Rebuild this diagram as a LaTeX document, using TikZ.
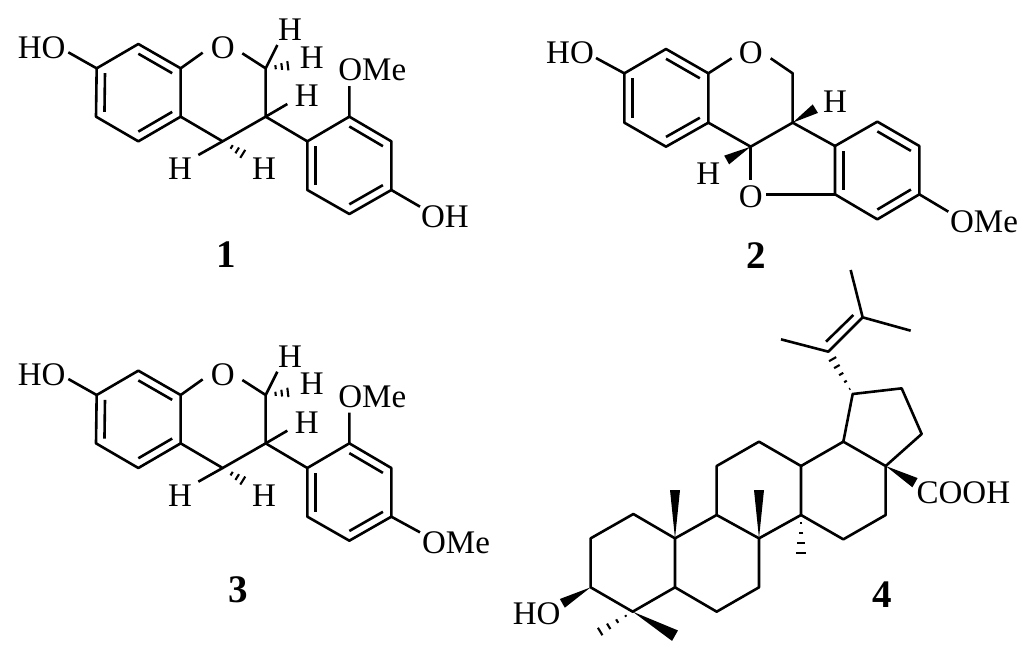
\documentclass[tikz,border=0pt]{standalone}
\usepackage{fontspec}
\setmainfont{Liberation Serif}
\usetikzlibrary{calc}
\tikzset{
  bondline/.style={line width=2.6pt,line join=round,line cap=butt},
  hashline/.style={line width=2.1pt},
  atomlabel/.style={inner sep=0pt,font=\fontsize{33}{33}\selectfont},
  numlabel/.style={inner sep=0pt,font=\fontsize{39}{39}\selectfont\bfseries},
  zoomed/.style={x=0.33333pt,y=-0.33333pt}
}
\newcommand\dbl[3]{\draw[bondline] ($(#1)!.2!(#3)$) -- ($(#2)!.2!(#3)$);}
\newcommand\wdg[3]{\fill ($(#2)!#3pt!90:(#1)$) -- (#1) -- ($(#2)!#3pt!-90:(#1)$) -- cycle;}
% from, to, number of bars, end half width (pt), start fraction
\newcommand\hsh[5]{\foreach \i in {1,...,#3}{
  \pgfmathsetmacro\f{#5+(1-#5)*(\i-1)/(#3-1)}
  \pgfmathsetmacro\h{#4*\f}
  \coordinate (hc) at ($(#1)!\f!(#2)$);
  \draw[hashline] ($(hc)!\h pt!90:(#2)$) -- ($(hc)!\h pt!-90:(#2)$);}}
\newcommand\chromane{%
  \coordinate (C7) at (290,205); \coordinate (C8) at (415,132); \coordinate (C8a) at (542,205);
  \coordinate (C2) at (797,205); \coordinate (C3) at (797,350); \coordinate (C4) at (668,424);
  \coordinate (C4a) at (542,350); \coordinate (C5) at (415,424); \coordinate (C6) at (288,350);
  \coordinate (CA) at (415,278);
  \coordinate (Ar1) at (922,424); \coordinate (Ar2) at (1048,350); \coordinate (Ar3) at (1174,424);
  \coordinate (Ar4) at (1174,570); \coordinate (Ar5) at (1048,642); \coordinate (Ar6) at (922,570);
  \coordinate (CB) at (1048,497);
  \node[atomlabel] (HO) at (125,143) {HO};
  \node[atomlabel] (O) at (668,143) {O};
  \node[atomlabel] (Ha) at (870,90) {H};
  \node[atomlabel] (Hb) at (935,172) {H};
  \node[atomlabel] (Hc) at (920,288) {H};
  \node[atomlabel] (Hd) at (540,507) {H};
  \node[atomlabel] (He) at (792,507) {H};
  \node[atomlabel] (OM) at (1117,210) {OMe};
  \coordinate (HOe) at (205,157); \coordinate (Ol) at (608,158); \coordinate (Or) at (727,160);
  \coordinate (Hae) at (832,135); \coordinate (Hbe) at (882,195); \coordinate (Hce) at (862,312);
  \coordinate (Hde) at (595,465); \coordinate (Hee) at (745,472); \coordinate (OMe) at (1048,258);
  \draw[bondline] (HOe) -- (C7);
  \draw[bondline] (C7) -- (C8) -- (C8a) -- (C4a) -- (C5) -- (C6) -- cycle;
  \draw[bondline] (C8a) -- (Ol) (Or) -- (C2) -- (C3) -- (C4) -- (C4a);
  \draw[bondline] (C3) -- (Ar1);
  \draw[bondline] (Ar1) -- (Ar2) -- (Ar3) -- (Ar4) -- (Ar5) -- (Ar6) -- cycle;
  \draw[bondline] (Ar2) -- (OMe) (C2) -- (Hae) (C3) -- (Hce) (C4) -- (Hde);
  \dbl{C7}{C6}{CA} \dbl{C8}{C8a}{CA} \dbl{C4a}{C5}{CA}
  \dbl{Ar2}{Ar3}{CB} \dbl{Ar4}{Ar5}{CB} \dbl{Ar6}{Ar1}{CB}
  \hsh{C2}{Hbe}{4}{6}{.35}
  \hsh{C4}{Hee}{4}{6}{.35}
}
\begin{document}
\begin{tikzpicture}[x=1pt,y=-1pt]
\fill[white] (0,0) rectangle (1024,646);
\useasboundingbox (0,0) rectangle (1024,646);
% compound 1
\begin{scope}[zoomed,name prefix=a-]
  \chromane
  \node[atomlabel] (OH) at (1335,650) {OH};
  \coordinate (OHe) at (1260,620);
  \draw[bondline] (Ar4) -- (OHe);
  \node[numlabel] (n) at (680,765) {1};
\end{scope}
% compound 3
\begin{scope}[shift={(0,326.67)},zoomed,name prefix=c-]
  \chromane
  \node[atomlabel] (OMb) at (1368,648) {OMe};
  \coordinate (OHe) at (1260,617);
  \draw[bondline] (Ar4) -- (OHe);
  \node[numlabel] (n) at (715,790) {3};
\end{scope}
% compound 2
\begin{scope}[shift={(530,20)},zoomed,name prefix=b-]
  \coordinate (C7) at (283,160); \coordinate (C8) at (408,87); \coordinate (C8a) at (535,160);
  \coordinate (C2) at (788,160); \coordinate (C3) at (788,308); \coordinate (C4) at (662,380);
  \coordinate (C4a) at (535,308); \coordinate (C5) at (408,380); \coordinate (C6) at (283,308);
  \coordinate (CA) at (408,234);
  \coordinate (Ar1) at (915,378); \coordinate (Ar2) at (1042,305); \coordinate (Ar3) at (1168,378);
  \coordinate (Ar4) at (1168,523); \coordinate (Ar5) at (1042,598); \coordinate (Ar6) at (915,523);
  \coordinate (CB) at (1042,451);
  \node[atomlabel] (HO) at (120,98) {HO};
  \node[atomlabel] (O) at (662,98) {O};
  \node[atomlabel] (Ob) at (662,530) {O};
  \node[atomlabel] (Ha) at (915,245) {H};
  \node[atomlabel] (Hb) at (535,462) {H};
  \node[atomlabel] (OM) at (1362,605) {OMe};
  \node[numlabel] (n) at (680,708) {2};
  \coordinate (HOe) at (198,114); \coordinate (Ol) at (605,115); \coordinate (Or) at (722,115);
  \coordinate (Obt) at (662,480); \coordinate (Obr) at (708,523); \coordinate (OMe) at (1255,575);
  \coordinate (Wa) at (856,266); \coordinate (Wb) at (590,420);
  \draw[bondline] (HOe) -- (C7);
  \draw[bondline] (C7) -- (C8) -- (C8a) -- (C4a) -- (C5) -- (C6) -- cycle;
  \draw[bondline] (C8a) -- (Ol) (Or) -- (C2) -- (C3) -- (C4) -- (C4a);
  \draw[bondline] (C4) -- (Obt) (Obr) -- (Ar6);
  \draw[bondline] (C3) -- (Ar1);
  \draw[bondline] (Ar1) -- (Ar2) -- (Ar3) -- (Ar4) -- (Ar5) -- (Ar6) -- cycle;
  \draw[bondline] (Ar4) -- (OMe);
  \dbl{C7}{C6}{CA} \dbl{C8}{C8a}{CA} \dbl{C4a}{C5}{CA}
  \dbl{Ar6}{Ar1}{CB} \dbl{Ar2}{Ar3}{CB} \dbl{Ar4}{Ar5}{CB}
  \wdg{C3}{Wa}{5} \wdg{C4}{Wb}{5}
\end{scope}
% compound 4
\begin{scope}[shift={(500,260)},zoomed,name prefix=d-]
  \coordinate (a1) at (400,762); \coordinate (a2) at (272,835); \coordinate (a3) at (272,982);
  \coordinate (a4) at (398,1055); \coordinate (a5) at (525,982); \coordinate (a6) at (525,835);
  \coordinate (b2) at (650,765); \coordinate (b3) at (777,835); \coordinate (b4) at (777,982);
  \coordinate (b5) at (650,1055);
  \coordinate (c1) at (650,618); \coordinate (c2) at (777,545); \coordinate (c3) at (903,618);
  \coordinate (c4) at (903,765);
  \coordinate (d1) at (1030,545); \coordinate (d2) at (1157,618); \coordinate (d3) at (1157,765);
  \coordinate (d4) at (1030,838);
  \coordinate (e1) at (1058,402); \coordinate (e2) at (1205,385); \coordinate (e3) at (1265,522);
  \coordinate (f1) at (985,275); \coordinate (f2) at (1088,172);
  \coordinate (f3) at (843,238); \coordinate (f4) at (1052,30); \coordinate (f5) at (1232,212);
  \coordinate (f6) at (978,245); \coordinate (f7) at (1060,165);
  \node[atomlabel] (COOH) at (1390,697) {COOH};
  \node[atomlabel] (HO) at (110,1060) {HO};
  \node[numlabel] (n) at (1148,1005) {4};
  \coordinate (Wc) at (1245,668); \coordinate (Wd) at (525,690); \coordinate (We) at (777,690);
  \coordinate (Wf) at (187,1030); \coordinate (Wg) at (525,1127);
  \coordinate (Hg) at (903,908); \coordinate (Hh) at (275,1130);
  \draw[bondline] (a1) -- (a2) -- (a3) -- (a4) -- (a5) -- (a6) -- cycle;
  \draw[bondline] (a6) -- (b2) -- (b3) -- (b4) -- (b5) -- (a5);
  \draw[bondline] (b2) -- (c1) -- (c2) -- (c3) -- (c4) -- (b3);
  \draw[bondline] (c3) -- (d1) -- (d2) -- (d3) -- (d4) -- (c4);
  \draw[bondline] (d1) -- (e1) -- (e2) -- (e3) -- (d2);
  \draw[bondline] (f3) -- (f1) -- (f2) -- (f4) (f2) -- (f5) (f6) -- (f7);
  \wdg{d2}{Wc}{5.3} \wdg{a6}{Wd}{5} \wdg{b3}{We}{5}
  \wdg{a3}{Wf}{5} \wdg{a4}{Wg}{6}
  \hsh{c4}{Hg}{5}{6}{.17}
  \hsh{a4}{Hh}{5}{5.5}{.17}
  \hsh{e1}{f1}{6}{5}{.12}
\end{scope}
\end{tikzpicture}
\end{document}
